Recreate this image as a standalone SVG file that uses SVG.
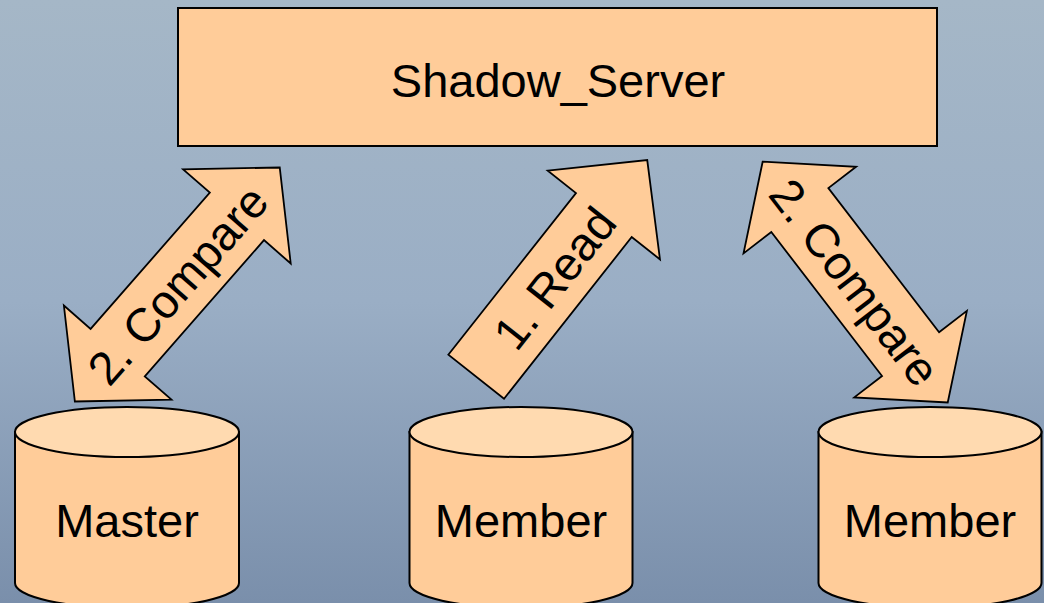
<svg xmlns="http://www.w3.org/2000/svg" width="1044" height="603" viewBox="0 0 1044 603">
  <defs>
    <linearGradient id="bg" x1="0" y1="0" x2="0" y2="1">
      <stop offset="0" stop-color="#A5B7C7"/>
      <stop offset="0.5" stop-color="#9AAEC5"/>
      <stop offset="1" stop-color="#7A8FAB"/>
    </linearGradient>
  </defs>
  <style>
    .shape { fill: #FFCC99; stroke: #000; stroke-width: 2; stroke-linejoin: miter; }
    .top { fill: #FFDAB0; stroke: #000; stroke-width: 2; }
    .arrow { fill: #FFCC99; stroke: #000; stroke-width: 1.8; stroke-linejoin: miter; }
    .label { font-family: "Liberation Sans", Arial, sans-serif; font-size: 47px; fill: #000; text-anchor: middle; }
  </style>
  <rect x="0" y="0" width="1044" height="603" fill="url(#bg)"/>

  <g id="shadow_server">
    <rect class="shape" x="178" y="8" width="759" height="138"/>
    <text class="label" x="558" y="97">Shadow_Server</text>
  </g>

  <g id="master">
    <path class="shape" d="M15,432 L15,583 A112,25 0 0 0 239,583 L239,432 Z"/>
    <ellipse class="top" cx="127" cy="432" rx="112" ry="25"/>
    <text class="label" x="127" y="537">Master</text>
  </g>

  <g id="member1">
    <path class="shape" d="M409.5,432 L409.5,583 A111.5,25 0 0 0 632.5,583 L632.5,432 Z"/>
    <ellipse class="top" cx="521" cy="432" rx="111.5" ry="25"/>
    <text class="label" x="521" y="537">Member</text>
  </g>

  <g id="member2">
    <path class="shape" d="M818.5,432 L818.5,583 A111.5,25 0 0 0 1041.5,583 L1041.5,432 Z"/>
    <ellipse class="top" cx="930" cy="432" rx="111.5" ry="25"/>
    <text class="label" x="930" y="537">Member</text>
  </g>

  <g id="connectors">
    <g id="compare_master" transform="translate(177.3,284.5) rotate(-48.8)">
      <polygon class="arrow" points="-155.5,0 -90.5,-71.5 -90.5,-36 90.5,-36 90.5,-71.5 155.5,0 90.5,71.5 90.5,36 -90.5,36 -90.5,71.5"/>
      <text class="label" x="0" y="17">2. Compare</text>
    </g>
    <g id="read_member" transform="translate(561.7,268.4) rotate(-51.7)">
      <polygon class="arrow" points="-138,-35.5 68,-35.5 68,-71.5 138,0 68,71.5 68,35.5 -138,35.5"/>
      <text class="label" x="-12" y="17">1. Read</text>
    </g>
    <g id="compare_member" transform="translate(855.2,282.1) rotate(52.45)">
      <polygon class="arrow" points="-151.85,0 -90.85,-71 -90.85,-36 90.85,-36 90.85,-71 151.85,0 90.85,71 90.85,36 -90.85,36 -90.85,71"/>
      <text class="label" x="0" y="17">2. Compare</text>
    </g>
  </g>
</svg>
